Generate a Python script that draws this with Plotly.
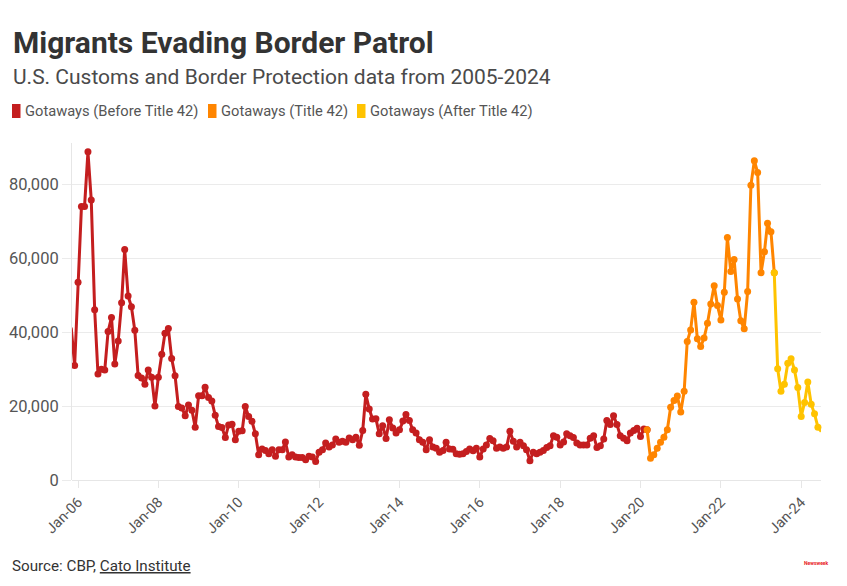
import plotly.graph_objects as go
import pandas as pd

# ---------------- data ----------------
start_month = "2005-10-01"

# Oct 2005 - Feb 2020
gotaways_before = [
    43000, 40900, 31000,
    53500, 74000, 74000, 88800, 75800, 46100, 28700, 30000, 29800, 40200, 44000, 31400,
    37600, 48000, 62400, 49800, 46900, 40500, 28300, 27600, 25900, 29800, 27800, 20000,
    27800, 34000, 39700, 41000, 32900, 28200, 19900, 19500, 17400, 20300, 18900, 14300,
    22800, 22800, 25100, 22300, 21400, 17500, 14500, 14200, 11500, 14900, 15100, 10900,
    13200, 13300, 19900, 17200, 15900, 12500, 6800, 8400, 8000, 7100, 8200, 6400,
    8200, 8200, 10300, 6200, 6800, 6200, 6100, 6100, 5500, 6400, 6200, 5000,
    7500, 8200, 10000, 8900, 9500, 11100, 10200, 10500, 10200, 11400, 10900, 11600,
    9400, 13400, 23200, 19200, 16500, 16600, 12500, 14700, 11200, 16300, 14100, 12700,
    13600, 16000, 17700, 16100, 13600, 12700, 10900, 10200, 8200, 10900, 8900, 8600,
    7500, 8000, 10200, 8400, 8300, 7100, 7000, 7100, 7700, 8400, 7900, 8600,
    6200, 8400, 9500, 11200, 10600, 8600, 8900, 8600, 8900, 13200, 10500, 8900,
    10200, 9300, 8200, 5200, 7500, 7100, 7500, 8000, 8800, 9300, 12000, 11600,
    9500, 10300, 12500, 12000, 11500, 10000, 9500, 9500, 9500, 11300, 12000, 8800,
    9300, 11100, 16100, 15000, 17400, 15000, 12000, 11300, 10600, 12700, 13400, 14000,
    11800, 13800,
]

# Mar 2020 - Apr 2023
gotaways_title42 = [
    13600, 5900, 6800, 8600, 10200, 11600, 13600, 19700, 21500, 22700,
    18400, 24000, 37500, 40600, 48100, 38200, 36100, 38400, 42400, 47600, 52600, 47200,
    43300, 50800, 65600, 56400, 59700, 49000, 43100, 40900, 51000, 79800, 86400, 83200,
    56100, 61800, 69500, 67200,
]

# May 2023 - Jul 2024
gotaways_after = [
    56100, 30100, 24000, 25900, 31600, 32800, 29800, 25000,
    17200, 21000, 26500, 20500, 17900, 14300, 13100,
]

series_names = ["Gotaways (Before Title 42)", "Gotaways (Title 42)", "Gotaways (After Title 42)"]
series_colors = ["#c41e1f", "#ff8500", "#ffc300"]

tick_dates = ["2006-01-01", "2008-01-01", "2010-01-01", "2012-01-01", "2014-01-01",
              "2016-01-01", "2018-01-01", "2020-01-01", "2022-01-01", "2024-01-01"]
tick_labels = ["Jan-06", "Jan-08", "Jan-10", "Jan-12", "Jan-14",
               "Jan-16", "Jan-18", "Jan-20", "Jan-22", "Jan-24"]
y_ticks = [0, 20000, 40000, 60000, 80000]

# ---------------- build ----------------
all_vals = gotaways_before + gotaways_title42 + gotaways_after
dates = pd.date_range(start_month, periods=len(all_vals), freq="MS")
n1 = len(gotaways_before)
n2 = len(gotaways_title42)

segments = [
    (0, n1 + 1),            # before, incl. first Title 42 month as connector
    (n1, n1 + n2 + 1),      # Title 42, incl. first month after
    (n1 + n2, len(all_vals)),
]

FONT = "Roboto"
OFF = 8  # page body margin
W, H = 847 - 2 * OFF, 586 - 2 * OFF
# plot area in screenshot pixels: x 72..821, y 143..480
L, T = 72 - OFF, 143 - OFF
R = W - (821 - OFF)
B = H - (480 - OFF)
PW, PH = W - L - R, H - T - B


def px(x):
    return (x - OFF - L) / PW


def py(y):
    return (H - B - (y - OFF)) / PH


fig = go.Figure()
for (a, b), name, col in zip(segments, series_names, series_colors):
    fig.add_trace(go.Scatter(
        x=dates[a:b], y=all_vals[a:b], mode="lines+markers", name=name,
        line=dict(color=col, width=3),
        marker=dict(color=col, size=7),
        cliponaxis=False,
        showlegend=False,
    ))

shapes = []
annotations = []

# title and subtitle
annotations.append(dict(text="<b>Migrants Evading Border Patrol</b>", x=px(11), y=py(43),
                        xref="paper", yref="paper", xanchor="left", yanchor="middle",
                        showarrow=False, font=dict(family=FONT, size=30, color="#333333")))
annotations.append(dict(text="U.S. Customs and Border Protection data from 2005-2024", x=px(11), y=py(77),
                        xref="paper", yref="paper", xanchor="left", yanchor="middle",
                        showarrow=False, font=dict(family=FONT, size=21, color="#4a4a4a")))

# legend
leg_x = [12, 208, 357]
for lx, name, col in zip(leg_x, series_names, series_colors):
    shapes.append(dict(type="rect", xref="paper", yref="paper",
                       x0=px(lx), x1=px(lx + 8.5), y0=py(118), y1=py(104),
                       fillcolor=col, line=dict(width=0), layer="above"))
    annotations.append(dict(text=name, x=px(lx + 11), y=py(111.5), xref="paper", yref="paper",
                            xanchor="left", yanchor="middle", showarrow=False,
                            font=dict(family=FONT, size=14.7, color="#555555")))

# source
annotations.append(dict(text="Source: CBP, <u>Cato Institute</u>", x=px(10), y=py(566),
                        xref="paper", yref="paper", xanchor="left", yanchor="middle",
                        showarrow=False, font=dict(family=FONT, size=15.2, color="#333333")))
annotations.append(dict(text="<b>Newsweek</b>", x=px(816), y=py(563),
                        xref="paper", yref="paper", xanchor="center", yanchor="middle",
                        showarrow=False, font=dict(family=FONT, size=5, color="#e8161b")))

fig.update_layout(
    width=W, height=H,
    margin=dict(l=L, r=R, t=T, b=B),
    paper_bgcolor="white", plot_bgcolor="white",
    font=dict(family=FONT, color="#555555"),
    shapes=shapes, annotations=annotations,
    showlegend=False,
    xaxis=dict(
        type="date", range=["2005-11-07", "2024-06-29"],
        tickvals=tick_dates, ticktext=tick_labels, tickangle=-45,
        tickfont=dict(family=FONT, size=14.5, color="#555555"),
        showgrid=False, ticks="outside", ticklen=7, tickcolor="#e6e6e6",
        showline=False, zeroline=False, automargin=False,
    ),
    yaxis=dict(
        range=[0, 91200], tickvals=y_ticks, tickformat=",",
        tickfont=dict(family=FONT, size=16.5, color="#555555"),
        showgrid=True, gridcolor="#ebebeb", gridwidth=1,
        ticks="outside", ticklen=9, tickcolor="#ebebeb",
        showline=True, linecolor="#e6e6e6", linewidth=1,
        zeroline=True, zerolinecolor="#e6e6e6", zerolinewidth=1, automargin=False,
    ),
)

fig.write_html("out.html")
